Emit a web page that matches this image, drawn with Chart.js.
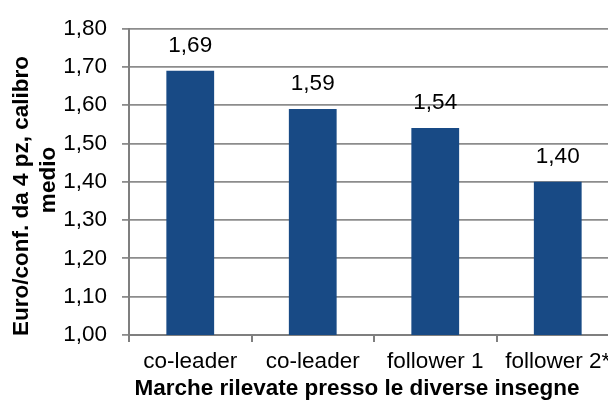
<!DOCTYPE html>
<html>
<head>
<meta charset="utf-8">
<script src="https://cdn.jsdelivr.net/npm/chart.js@4"></script>
<style>
  html, body { margin: 0; padding: 0; background: #fff; overflow: hidden; }
  #wrap { width: 620px; height: 406px; }
</style>
</head>
<body>
<div id="wrap"><canvas id="myChart"></canvas></div>
<script>
const categories = ['co-leader', 'co-leader', 'follower 1', 'follower 2*'];
const prices = [1.69, 1.59, 1.54, 1.40];
const yTicks = [1.00, 1.10, 1.20, 1.30, 1.40, 1.50, 1.60, 1.70, 1.80];
const yTitle = ['Euro/conf. da 4 pz, calibro', 'medio'];
const xTitle = 'Marche rilevate presso le diverse insegne';

const fmt = v => v.toFixed(2).replace('.', ',');
const gridGray = '#8c8c8c';
const axisGray = '#7f7f7f';
const fontFamily = 'Arial, "Liberation Sans", sans-serif';

const ctx = document.getElementById('myChart').getContext('2d');

const labelPlugin = {
    id: 'labels',
    afterDatasetsDraw(chart) {
        const { ctx } = chart;
        ctx.save();
        ctx.font = '22.5px ' + fontFamily;
        ctx.fillStyle = '#000';
        ctx.textAlign = 'center';
        ctx.textBaseline = 'middle';
        chart.getDatasetMeta(0).data.forEach((bar, i) => {
            ctx.fillText(fmt(prices[i]), bar.x, bar.y - 25);
        });
        ctx.restore();
    },
    afterDraw(chart) {
        const { ctx } = chart;
        ctx.save();
        ctx.font = 'bold 22.5px ' + fontFamily;
        ctx.fillStyle = '#000';
        ctx.textAlign = 'center';
        ctx.textBaseline = 'middle';
        // y axis title, rotated
        ctx.save();
        ctx.translate(22, 196);
        ctx.rotate(-Math.PI / 2);
        ctx.fillText(yTitle[0], 0, 0);
        ctx.restore();
        ctx.save();
        ctx.translate(49, 180);
        ctx.rotate(-Math.PI / 2);
        ctx.fillText(yTitle[1], 0, 0);
        ctx.restore();
        // x axis title
        ctx.fillText(xTitle, 357, 389);
        ctx.restore();
    }
};

const myChart = new Chart(ctx, {
    type: 'bar',
    data: {
        labels: categories,
        datasets: [{
            data: prices,
            backgroundColor: '#184a85',
            borderWidth: 0,
            barPercentage: 0.39,
            categoryPercentage: 1
        }]
    },
    options: {
        responsive: true,
        maintainAspectRatio: false,
        animation: false,
        layout: { padding: { left: 0, top: 25, right: 1, bottom: 0 } },
        plugins: {
            legend: { display: false },
            tooltip: { enabled: false }
        },
        scales: {
            x: {
                offset: true,
                afterFit(scale) { scale.height = 71; },
                grid: {
                    offset: true,
                    drawOnChartArea: false,
                    drawTicks: true,
                    tickLength: 7,
                    color: axisGray,
                    lineWidth: 2
                },
                border: { color: axisGray, width: 2 },
                ticks: {
                    color: '#000',
                    padding: 6,
                    maxRotation: 0,
                    autoSkip: false,
                    font: { family: fontFamily, size: 22.5 }
                }
            },
            y: {
                min: 1,
                max: 1.8,
                afterFit(scale) { scale.width = 129; },
                afterBuildTicks(scale) {
                    scale.ticks = yTicks.map(v => ({ value: v }));
                },
                grid: {
                    color: gridGray,
                    lineWidth: 1.8,
                    tickLength: 7
                },
                border: { color: axisGray, width: 2 },
                ticks: {
                    color: '#000',
                    padding: 15,
                    font: { family: fontFamily, size: 22.5 },
                    callback: v => fmt(v)
                }
            }
        }
    },
    plugins: [labelPlugin]
});
</script>
</body>
</html>
